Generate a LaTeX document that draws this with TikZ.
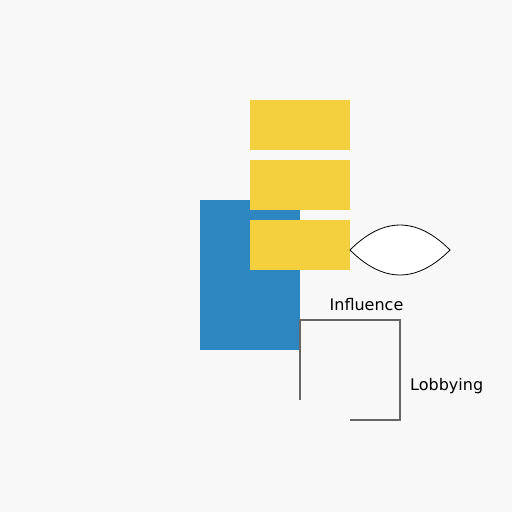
\documentclass[tikz,border=0pt]{standalone}
\usepackage{fontspec}
\setmainfont{DejaVu Sans}
\definecolor{bg}{HTML}{F8F8F8}
\definecolor{blueb}{HTML}{2E86C1}
\definecolor{yel}{HTML}{F4D03F}
\definecolor{lin}{HTML}{666666}
\begin{document}
\begin{tikzpicture}[x=1pt,y=-1pt,
  box/.style={draw=none,inner sep=0pt,outer sep=0pt,anchor=north west},
  lbl/.style={inner sep=0pt,font=\fontsize{16}{19}\selectfont},
  wire/.style={draw=lin,line width=1.4pt}]
\fill[bg] (0,0) rectangle (512,512);
\useasboundingbox (0,0) rectangle (512,512);
\node[box,fill=blueb,minimum width=100pt,minimum height=150pt] (blue) at (200,200) {};
\node[box,fill=yel,minimum width=100pt,minimum height=50pt] (y1) at (250,100) {};
\node[box,fill=yel,minimum width=100pt,minimum height=50pt] (y2) at (250,160) {};
\node[box,fill=yel,minimum width=100pt,minimum height=50pt] (y3) at (250,220) {};
\coordinate (lensL) at (350,250);
\coordinate (lensR) at (450,250);
\draw[black,line width=0.8pt,fill=white] (lensL) .. controls (383.3,216.7) and (416.7,216.7) .. (lensR)
  .. controls (416.7,283.3) and (383.3,283.3) .. (lensL) -- cycle;
\coordinate (p0) at (300,400);
\coordinate (p1) at (300,320);
\coordinate (p2) at (400,320);
\coordinate (p3) at (400,420);
\coordinate (p4) at (350,420);
\draw[wire] (p0) -- (p1) -- (p2) -- (p3) -- (p4);
\node[lbl,anchor=base] (infl) at (366.5,310) {Influence};
\node[lbl,anchor=base west] (lobb) at (410,390) {Lobbying};
\end{tikzpicture}
\end{document}
